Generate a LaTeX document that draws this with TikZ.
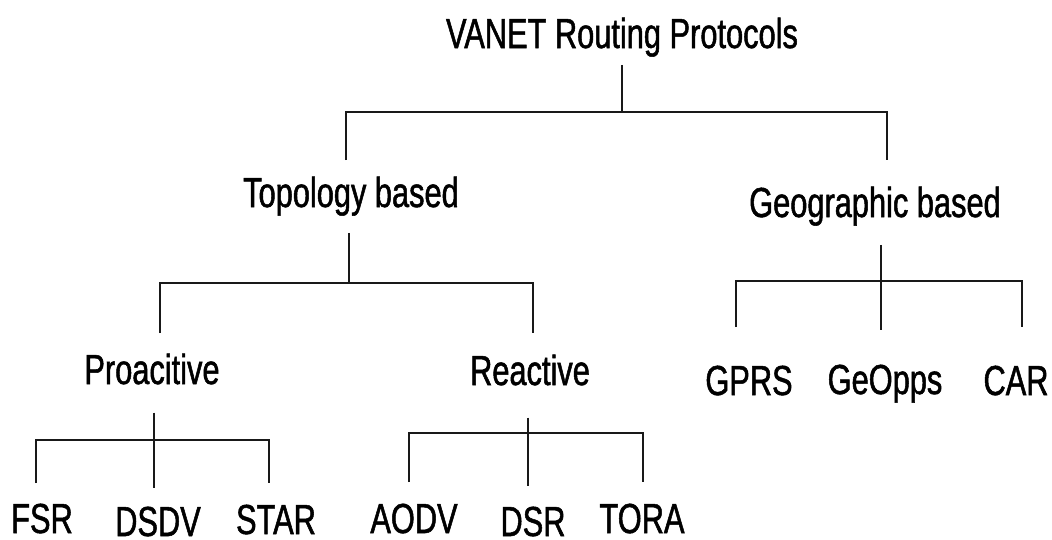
\documentclass[tikz,border=0pt]{standalone}
\usepackage{fontspec}
\setmainfont{Liberation Sans}[FakeStretch=0.733,FakeBold=1.2]
\begin{document}
\begin{tikzpicture}[x=1pt,y=-1pt,
  lbl/.style={inner sep=0pt, anchor=base, font=\fontsize{42}{48}\selectfont},
  conn/.style={line width=2.6pt, line join=miter, draw=black!90}]
\useasboundingbox (0,0) rectangle (1052,539);
% labels
\node[lbl] (root) at (622,48) {VANET Routing Protocols};
\node[lbl] (topo) at (351,207) {Topology based};
\node[lbl] (geo) at (875,217) {Geographic based};
\node[lbl] (pro) at (152,384) {Proacitive};
\node[lbl] (rea) at (530,385) {Reactive};
\node[lbl] (gprs) at (749,395) {GPRS};
\node[lbl] (geopps) at (885,394) {GeOpps};
\node[lbl] (car) at (1016,395) {CAR};
\node[lbl] (fsr) at (42,533) {FSR};
\node[lbl] (dsdv) at (158,536) {DSDV};
\node[lbl] (star) at (276,534) {STAR};
\node[lbl] (aodv) at (414,533) {AODV};
\node[lbl] (dsr) at (533,536) {DSR};
\node[lbl] (tora) at (642,533) {TORA};
% junctions and drop ends
\coordinate (j0) at (622,112);
\coordinate (t0) at (346,160);
\coordinate (g0) at (887,160);
\coordinate (j1) at (349,283);
\coordinate (p0) at (160,333);
\coordinate (r0) at (533,333);
\coordinate (j2) at (881,281);
\coordinate (gp) at (736,327);
\coordinate (gm) at (881,330);
\coordinate (gc) at (1022,327);
\coordinate (j3) at (154,440);
\coordinate (f0) at (36,483);
\coordinate (dm) at (154,488);
\coordinate (s0) at (269,483);
\coordinate (j4) at (528,433);
\coordinate (a0) at (409,482);
\coordinate (dr) at (528,486);
\coordinate (t4) at (643,482);
% connectors
\draw[conn] (j0 |- root.south) ++(0,8) -- (j0);
\draw[conn] (t0) -- (t0 |- j0) -- (g0 |- j0) -- (g0);
\draw[conn] (j1 |- topo.south) ++(0,17) -- (j1);
\draw[conn] (p0) -- (p0 |- j1) -- (r0 |- j1) -- (r0);
\draw[conn] (gm |- geo.south) ++(0,19) -- (gm);
\draw[conn] (gp) -- (gp |- j2) -- (gc |- j2) -- (gc);
\draw[conn] (dm |- pro.south) ++(0,28) -- (dm);
\draw[conn] (f0) -- (f0 |- j3) -- (s0 |- j3) -- (s0);
\draw[conn] (dr |- rea.south) ++(0,32) -- (dr);
\draw[conn] (a0) -- (a0 |- j4) -- (t4 |- j4) -- (t4);
\end{tikzpicture}
\end{document}
